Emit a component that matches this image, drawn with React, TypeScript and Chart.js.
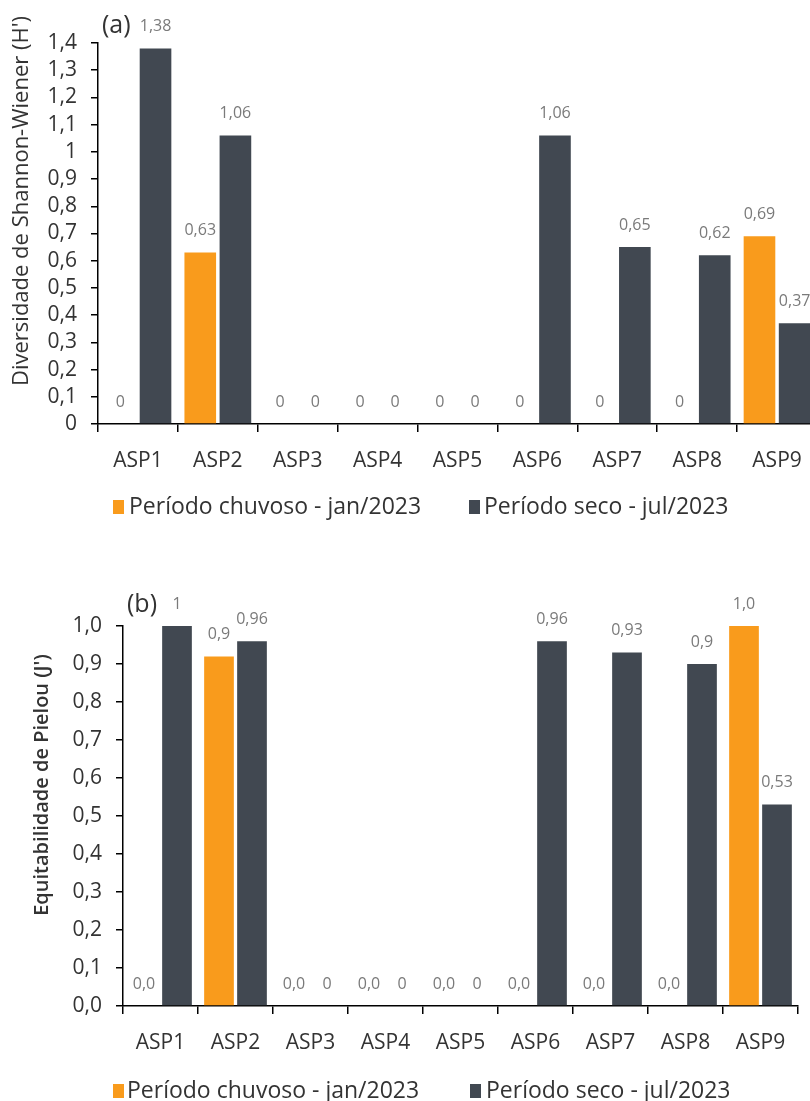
import React, { useEffect, useRef } from "react";
import { Chart, registerables } from "chart.js";

Chart.register(...registerables);

// ---------- data ----------
const categories = ["ASP1", "ASP2", "ASP3", "ASP4", "ASP5", "ASP6", "ASP7", "ASP8", "ASP9"];
const seriesNames = ["Período chuvoso - jan/2023", "Período seco - jul/2023"];

const shannonRainy = [0, 0.63, 0, 0, 0, 0, 0, 0, 0.69];
const shannonDry = [1.38, 1.06, 0, 0, 0, 1.06, 0.65, 0.62, 0.37];
const shannonRainyLabels = ["0", "0,63", "0", "0", "0", "0", "0", "0", "0,69"];
const shannonDryLabels = ["1,38", "1,06", "0", "0", "0", "1,06", "0,65", "0,62", "0,37"];
const shannonTickLabels = ["0", "0,1", "0,2", "0,3", "0,4", "0,5", "0,6", "0,7", "0,8", "0,9", "1", "1,1", "1,2", "1,3", "1,4"];

const pielouRainy = [0, 0.92, 0, 0, 0, 0, 0, 0, 1.0];
const pielouDry = [1.0, 0.96, 0, 0, 0, 0.96, 0.93, 0.9, 0.53];
const pielouRainyLabels = ["0,0", "0,9", "0,0", "0,0", "0,0", "0,0", "0,0", "0,0", "1,0"];
const pielouDryLabels = ["1", "0,96", "0", "0", "0", "0,96", "0,93", "0,9", "0,53"];
const pielouTickLabels = ["0,0", "0,1", "0,2", "0,3", "0,4", "0,5", "0,6", "0,7", "0,8", "0,9", "1,0"];

// ---------- style ----------
const ORANGE = "#F99B1C";
const DARK = "#414851";
const FONT = "'Open Sans', sans-serif";
const TEXT = "#333333";
const LABEL_GRAY = "#7a7a7a";

type PanelProps = {
  top: number;
  width: number;
  height: number;
  rainy: number[];
  dry: number[];
  rainyLabels: string[];
  dryLabels: string[];
  tickLabels: string[];
  yMax: number;
  padTop: number;
  padRight: number;
  xAxisH: number;
  yAxisW: number;
  yTitle: string;
  yTitleX: number;
  yTitleY: number;
  yTitleSize: number;
  yTitleWeight: string;
  panel: string;
  panelX: number;
  panelY: number;
  legendY: number;
  legendBoxX: number[];
  legendTextX: number[];
};

function Panel(p: PanelProps) {
  const ref = useRef<HTMLCanvasElement>(null);
  useEffect(() => {
    const canvas = ref.current;
    if (!canvas) return;
    const overlay = {
      id: "overlay",
      afterDatasetsDraw(chart: any) {
        const ctx = chart.ctx;
        ctx.save();
        ctx.font = `16px ${FONT}`;
        ctx.fillStyle = LABEL_GRAY;
        ctx.textAlign = "center";
        ctx.textBaseline = "middle";
        const labelSets = [p.rainyLabels, p.dryLabels];
        chart.data.datasets.forEach((_: any, di: number) => {
          const meta = chart.getDatasetMeta(di);
          meta.data.forEach((el: any, j: number) => {
            ctx.fillText(labelSets[di][j], el.x, el.y - 22);
          });
        });
        ctx.restore();
      },
      afterDraw(chart: any) {
        const ctx = chart.ctx;
        ctx.save();
        // y title
        ctx.translate(p.yTitleX, p.yTitleY);
        ctx.rotate(-Math.PI / 2);
        ctx.font = `${p.yTitleWeight} ${p.yTitleSize}px ${FONT}`;
        ctx.fillStyle = TEXT;
        ctx.textAlign = "center";
        ctx.textBaseline = "middle";
        ctx.fillText(p.yTitle, 0, 0);
        ctx.restore();

        ctx.save();
        ctx.font = `25px ${FONT}`;
        ctx.fillStyle = TEXT;
        ctx.textAlign = "left";
        ctx.textBaseline = "middle";
        ctx.fillText(p.panel, p.panelX, p.panelY);
        // legend
        const colors = [ORANGE, DARK];
        ctx.font = `23px ${FONT}`;
        seriesNames.forEach((name, i) => {
          ctx.fillStyle = colors[i];
          ctx.fillRect(p.legendBoxX[i], p.legendY - 7, 11, 14);
          ctx.fillStyle = TEXT;
          ctx.fillText(name, p.legendTextX[i], p.legendY);
        });
        ctx.restore();
      },
    };
    const chart = new Chart(canvas, {
      type: "bar",
      data: {
        labels: categories,
        datasets: [
          { label: seriesNames[0], data: p.rainy, backgroundColor: ORANGE, categoryPercentage: 0.88, barPercentage: 0.9 },
          { label: seriesNames[1], data: p.dry, backgroundColor: DARK, categoryPercentage: 0.88, barPercentage: 0.9 },
        ],
      },
      options: {
        responsive: false,
        animation: false,
        devicePixelRatio: 1,
        layout: { padding: { left: 0, top: p.padTop, right: p.padRight, bottom: 0 } },
        plugins: { legend: { display: false }, tooltip: { enabled: false } },
        scales: {
          x: {
            grid: { display: true, drawOnChartArea: false, drawTicks: true, tickLength: 8, color: "#000", lineWidth: 1.5, offset: true },
            border: { display: true, color: "#000", width: 1.5 },
            ticks: { color: TEXT, font: { family: FONT, size: 21 }, padding: 16, maxRotation: 0, autoSkip: false },
            afterFit: (s: any) => {
              s.height = p.xAxisH;
            },
          },
          y: {
            min: 0,
            max: p.yMax,
            ticks: {
              stepSize: 0.1,
              autoSkip: false,
              color: TEXT,
              font: { family: FONT, size: 21 },
              padding: 14,
              callback: (v: any) => p.tickLabels[Math.round(Number(v) * 10)] ?? "",
            },
            grid: { display: true, drawOnChartArea: false, drawTicks: true, tickLength: 7, color: "#000", lineWidth: 1.5 },
            border: { display: true, color: "#000", width: 1.5 },
            afterFit: (s: any) => {
              s.width = p.yAxisW;
            },
          },
        },
      },
      plugins: [overlay],
    } as any);
    return () => chart.destroy();
  }, []);
  return (
    <canvas
      ref={ref}
      width={p.width}
      height={p.height}
      style={{ position: "absolute", left: 0, top: p.top, width: p.width, height: p.height }}
    />
  );
}

export default function App() {
  return (
    <div style={{ position: "absolute", left: 0, top: 0, width: 810, height: 1101, overflow: "hidden", background: "#fff" }}>
      <Panel
        top={0}
        width={830}
        height={530}
        rainy={shannonRainy}
        dry={shannonDry}
        rainyLabels={shannonRainyLabels}
        dryLabels={shannonDryLabels}
        tickLabels={shannonTickLabels}
        yMax={1.4}
        padTop={43}
        padRight={13}
        xAxisH={106}
        yAxisW={98}
        yTitle="Diversidade de Shannon-Wiener (H')"
        yTitleX={22}
        yTitleY={201}
        yTitleSize={22}
        yTitleWeight="normal"
        panel="(a)"
        panelX={102}
        panelY={26}
        legendY={507}
        legendBoxX={[113, 469]}
        legendTextX={[129, 484]}
      />
      <Panel
        top={580}
        width={810}
        height={521}
        rainy={pielouRainy}
        dry={pielouDry}
        rainyLabels={pielouRainyLabels}
        dryLabels={pielouDryLabels}
        tickLabels={pielouTickLabels}
        yMax={1.0}
        padTop={46}
        padRight={12}
        xAxisH={95}
        yAxisW={123}
        yTitle="Equitabilidade de Pielou (J')"
        yTitleX={42}
        yTitleY={205}
        yTitleSize={20}
        yTitleWeight="600"
        panel="(b)"
        panelX={127}
        panelY={25}
        legendY={511}
        legendBoxX={[113, 470]}
        legendTextX={[127, 486]}
      />
    </div>
  );
}
